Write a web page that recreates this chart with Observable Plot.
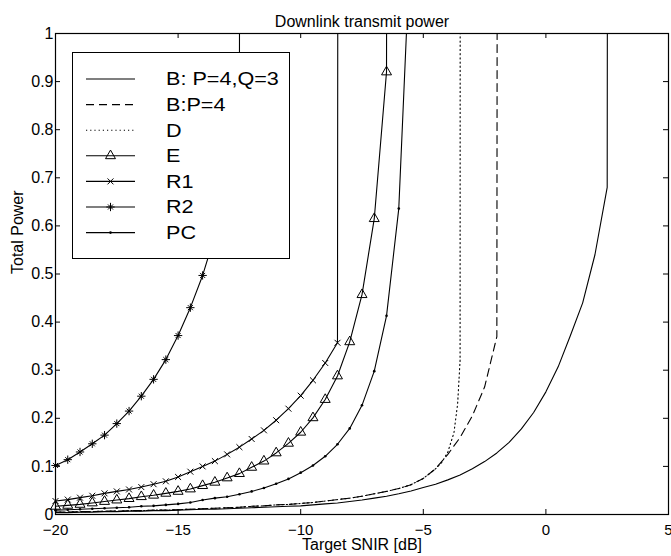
<!DOCTYPE html>
<html><head><meta charset="utf-8">
<script src="https://cdn.jsdelivr.net/npm/d3@7"></script>
<script src="https://cdn.jsdelivr.net/npm/@observablehq/plot@0.6"></script>
<style>
body{margin:0;background:#fff;}
#chart svg{display:block;}
</style></head><body><div id="chart"></div>
<script>
// Target SNIR grid [dB] (0.5 dB steps)
const snir = [-20,-19.5,-19,-18.5,-18,-17.5,-17,-16.5,-16,-15.5,-15,-14.5,-14,-13.5,-13,-12.5,-12,-11.5,-11,-10.5,-10,-9.5,-9,-8.5,-8,-7.5,-7,-6.5,-6,-5.5,-5,-4.5,-4,-3.5,-3,-2.5,-2,-1.5,-1,-0.5,0,0.5,1,1.5,2,2.5,3];
// Total power per scheme (indexed on snir; a large value marks infeasibility)
const powerBPQ = [.004,.004,.005,.005,.006,.006,.007,.007,.008,.008, .009,.010,.011,.011,.012,.013,.014,.015,.016,.017, .018,.020,.022,.024,.027,.030,.034,.038,.043,.049, .056,.063,.072,.082,.095,.110,.128,.150,.178,.212, .255,.307,.372,.440,.540,.680,30];
const powerBP4 = [.005,.005,.006,.006,.007,.007,.008,.008,.009,.009, .010,.011,.012,.013,.014,.015,.017,.018,.020,.021, .023,.025,.028,.031,.034,.038,.043,.048,.054,.062, .075,.095,.125,.160,.205,.265,.370,30];
const snirD = [-20,-19.5,-19,-18.5,-18,-17.5,-17,-16.5,-16,-15.5,-15,-14.5,-14,-13.5,-13,-12.5,-12,-11.5,-11,-10.5,-10,-9.5,-9,-8.5,-8,-7.5,-7,-6.5,-6,-5.5,-5,-4.5,-4.25,-4,-3.75,-3.6,-3.5,-3.4];
const powerD = [.005,.005,.006,.006,.007,.007,.008,.008,.009,.009, .010,.011,.012,.013,.014,.015,.017,.018,.020,.021, .023,.025,.028,.031,.034,.038,.043,.048,.054,.062, .075,.095,.108,.130,.170,.230,.320,20];
const powerE = [.017,.019,.021,.024,.027,.030,.033,.037,.040,.044, .048,.053,.060,.067,.076,.085,.098,.111,.128,.148, .171,.201,.239,.288,.359,.457,.615,.920,20];
const powerR1 = [.028,.031,.035,.039,.044,.048,.052,.057,.063,.069, .078,.089,.100,.111,.125,.140,.157,.175,.196,.220, .247,.279,.315,.357,30];
const powerR2 = [.102,.114,.130,.147,.165,.189,.215,.246,.281,.322, .372,.430,.497,.580,.680,.800,30];
const powerPC = [.009,.010,.011,.012,.013,.014,.015,.017,.018,.020, .022,.025,.030,.034,.037,.042,.048,.055,.064,.074, .087,.102,.121,.146,.179,.227,.298,.413,.636,1.22];

const legendLabels = ["B: P=4,Q=3", "B:P=4", "D", "E", "R1", "R2", "PC"];
const xTicks = [-20, -15, -10, -5, 0, 5];
const yTicks = [0, 0.1, 0.2, 0.3, 0.4, 0.5, 0.6, 0.7, 0.8, 0.9, 1];
const titleText = "Downlink transmit power";
const xLabel = "Target SNIR [dB]";
const yLabel = "Total Power";

const pair = (xs, ys) => ys.map((y, i) => ({x: xs[i], y}));
const dBPQ = pair(snir, powerBPQ), dBP4 = pair(snir, powerBP4), dD = pair(snirD, powerD);
const dE = pair(snir, powerE), dR1 = pair(snir, powerR1), dR2 = pair(snir, powerR2), dPC = pair(snir, powerPC);
const vis = d => d.filter(p => p.y <= 1);

const font = "'Liberation Sans', Arial, Helvetica, sans-serif";
const W = 671, H = 556, mL = 55, mR = 3, mT = 33, mB = 42;
const fw = W - mL - mR, fh = H - mT - mB, tk = 5;
const fmt = d => d < 0 ? "\u2212" + (-d) : String(d);
const lw = 1.1;

const chart = Plot.plot({
  width: W, height: H,
  marginLeft: mL, marginRight: mR, marginTop: mT, marginBottom: mB,
  x: {domain: [-20, 5]},
  y: {domain: [0, 1]},
  style: {fontFamily: font, fontSize: "15px", background: "#fff", color: "#000", overflow: "visible"},
  marks: [
    Plot.axisX(xTicks, {tickSize: 0, tickPadding: 10, tickFormat: fmt, label: null, fontSize: 15}),
    Plot.axisY(yTicks, {tickSize: 0, tickPadding: 2, tickFormat: fmt, label: null, fontSize: 16}),
    Plot.tickX(xTicks, {insetTop: fh - tk, stroke: "#000"}),
    Plot.tickX(xTicks, {insetBottom: fh - tk, stroke: "#000"}),
    Plot.tickY(yTicks, {insetRight: fw - tk, stroke: "#000"}),
    Plot.tickY(yTicks, {insetLeft: fw - tk, stroke: "#000"}),
    Plot.line(dBPQ, {x: "x", y: "y", stroke: "#000", strokeWidth: lw, clip: true}),
    Plot.line(dBP4, {x: "x", y: "y", stroke: "#000", strokeWidth: lw, strokeDasharray: "8,5", clip: true}),
    Plot.line(dD, {x: "x", y: "y", stroke: "#000", strokeWidth: lw, strokeDasharray: "1.2,3", clip: true}),
    Plot.line(dE, {x: "x", y: "y", stroke: "#000", strokeWidth: lw, clip: true}),
    Plot.line(dR1, {x: "x", y: "y", stroke: "#000", strokeWidth: lw, clip: true}),
    Plot.line(dR2, {x: "x", y: "y", stroke: "#000", strokeWidth: lw, clip: true}),
    Plot.line(dPC, {x: "x", y: "y", stroke: "#000", strokeWidth: lw, clip: true}),
    Plot.dot(vis(dE), {x: "x", y: "y", symbol: "triangle", r: 3.7, stroke: "#000", fill: "none", strokeWidth: 1}),
    Plot.dot(vis(dR1), {x: "x", y: "y", symbol: "times", r: 2.8, stroke: "#000", strokeWidth: 1}),
    Plot.dot(vis(dR2), {x: "x", y: "y", symbol: "plus", r: 2.8, stroke: "#000", strokeWidth: 1}),
    Plot.dot(vis(dR2), {x: "x", y: "y", symbol: "times", r: 2.4, stroke: "#000", strokeWidth: 1}),
    Plot.dot(vis(dPC), {x: "x", y: "y", r: 1.3, fill: "#000", stroke: "none"}),
    Plot.frame({stroke: "#000", strokeWidth: 1.2}),
    Plot.text([titleText], {frameAnchor: "top", dy: -18, fontSize: 16, fill: "#000"}),
    Plot.text([xLabel], {frameAnchor: "bottom", dy: 35, fontSize: 16, fill: "#000"}),
    Plot.text([yLabel], {frameAnchor: "left", dx: -38, rotate: -90, fontSize: 16, fill: "#000"})
  ]
});

// Legend box (drawn over the curves, as in the original)
const dashes = [null, "8,5", "1.2,3", null, null, null, null];
const lg = d3.select(chart).append("g").attr("font-family", font).attr("text-anchor", "start");
lg.append("rect").attr("x", 72.5).attr("y", 52.5).attr("width", 217).attr("height", 206)
  .attr("fill", "#fff").attr("stroke", "#000").attr("stroke-width", 1);
const sym = (type, r) => d3.symbol().type(type).size(Math.PI * r * r)();
legendLabels.forEach((label, i) => {
  const y = 79 + i * 25.6;
  lg.append("line").attr("x1", 86).attr("x2", 135).attr("y1", y).attr("y2", y)
    .attr("stroke", "#000").attr("stroke-width", lw).attr("stroke-dasharray", dashes[i]);
  const m = lg.append("g").attr("transform", `translate(110.5,${y})`);
  if (label === "E") m.append("path").attr("d", sym(d3.symbolTriangle, 3.7)).attr("fill", "none").attr("stroke", "#000");
  if (label === "R1") m.append("path").attr("d", sym(d3.symbolTimes, 2.8)).attr("fill", "none").attr("stroke", "#000");
  if (label === "R2") {
    m.append("path").attr("d", sym(d3.symbolPlus, 2.8)).attr("fill", "none").attr("stroke", "#000");
    m.append("path").attr("d", sym(d3.symbolTimes, 2.4)).attr("fill", "none").attr("stroke", "#000");
  }
  if (label === "PC") m.append("circle").attr("r", 1.3).attr("fill", "#000");
  lg.append("text").attr("transform", `translate(166,${y}) scale(1.2,1)`)
    .attr("text-anchor", "start").attr("dy", "0.36em").attr("font-size", 18).attr("fill", "#000").text(label);
});

document.getElementById("chart").append(chart);
</script>
</body></html>
